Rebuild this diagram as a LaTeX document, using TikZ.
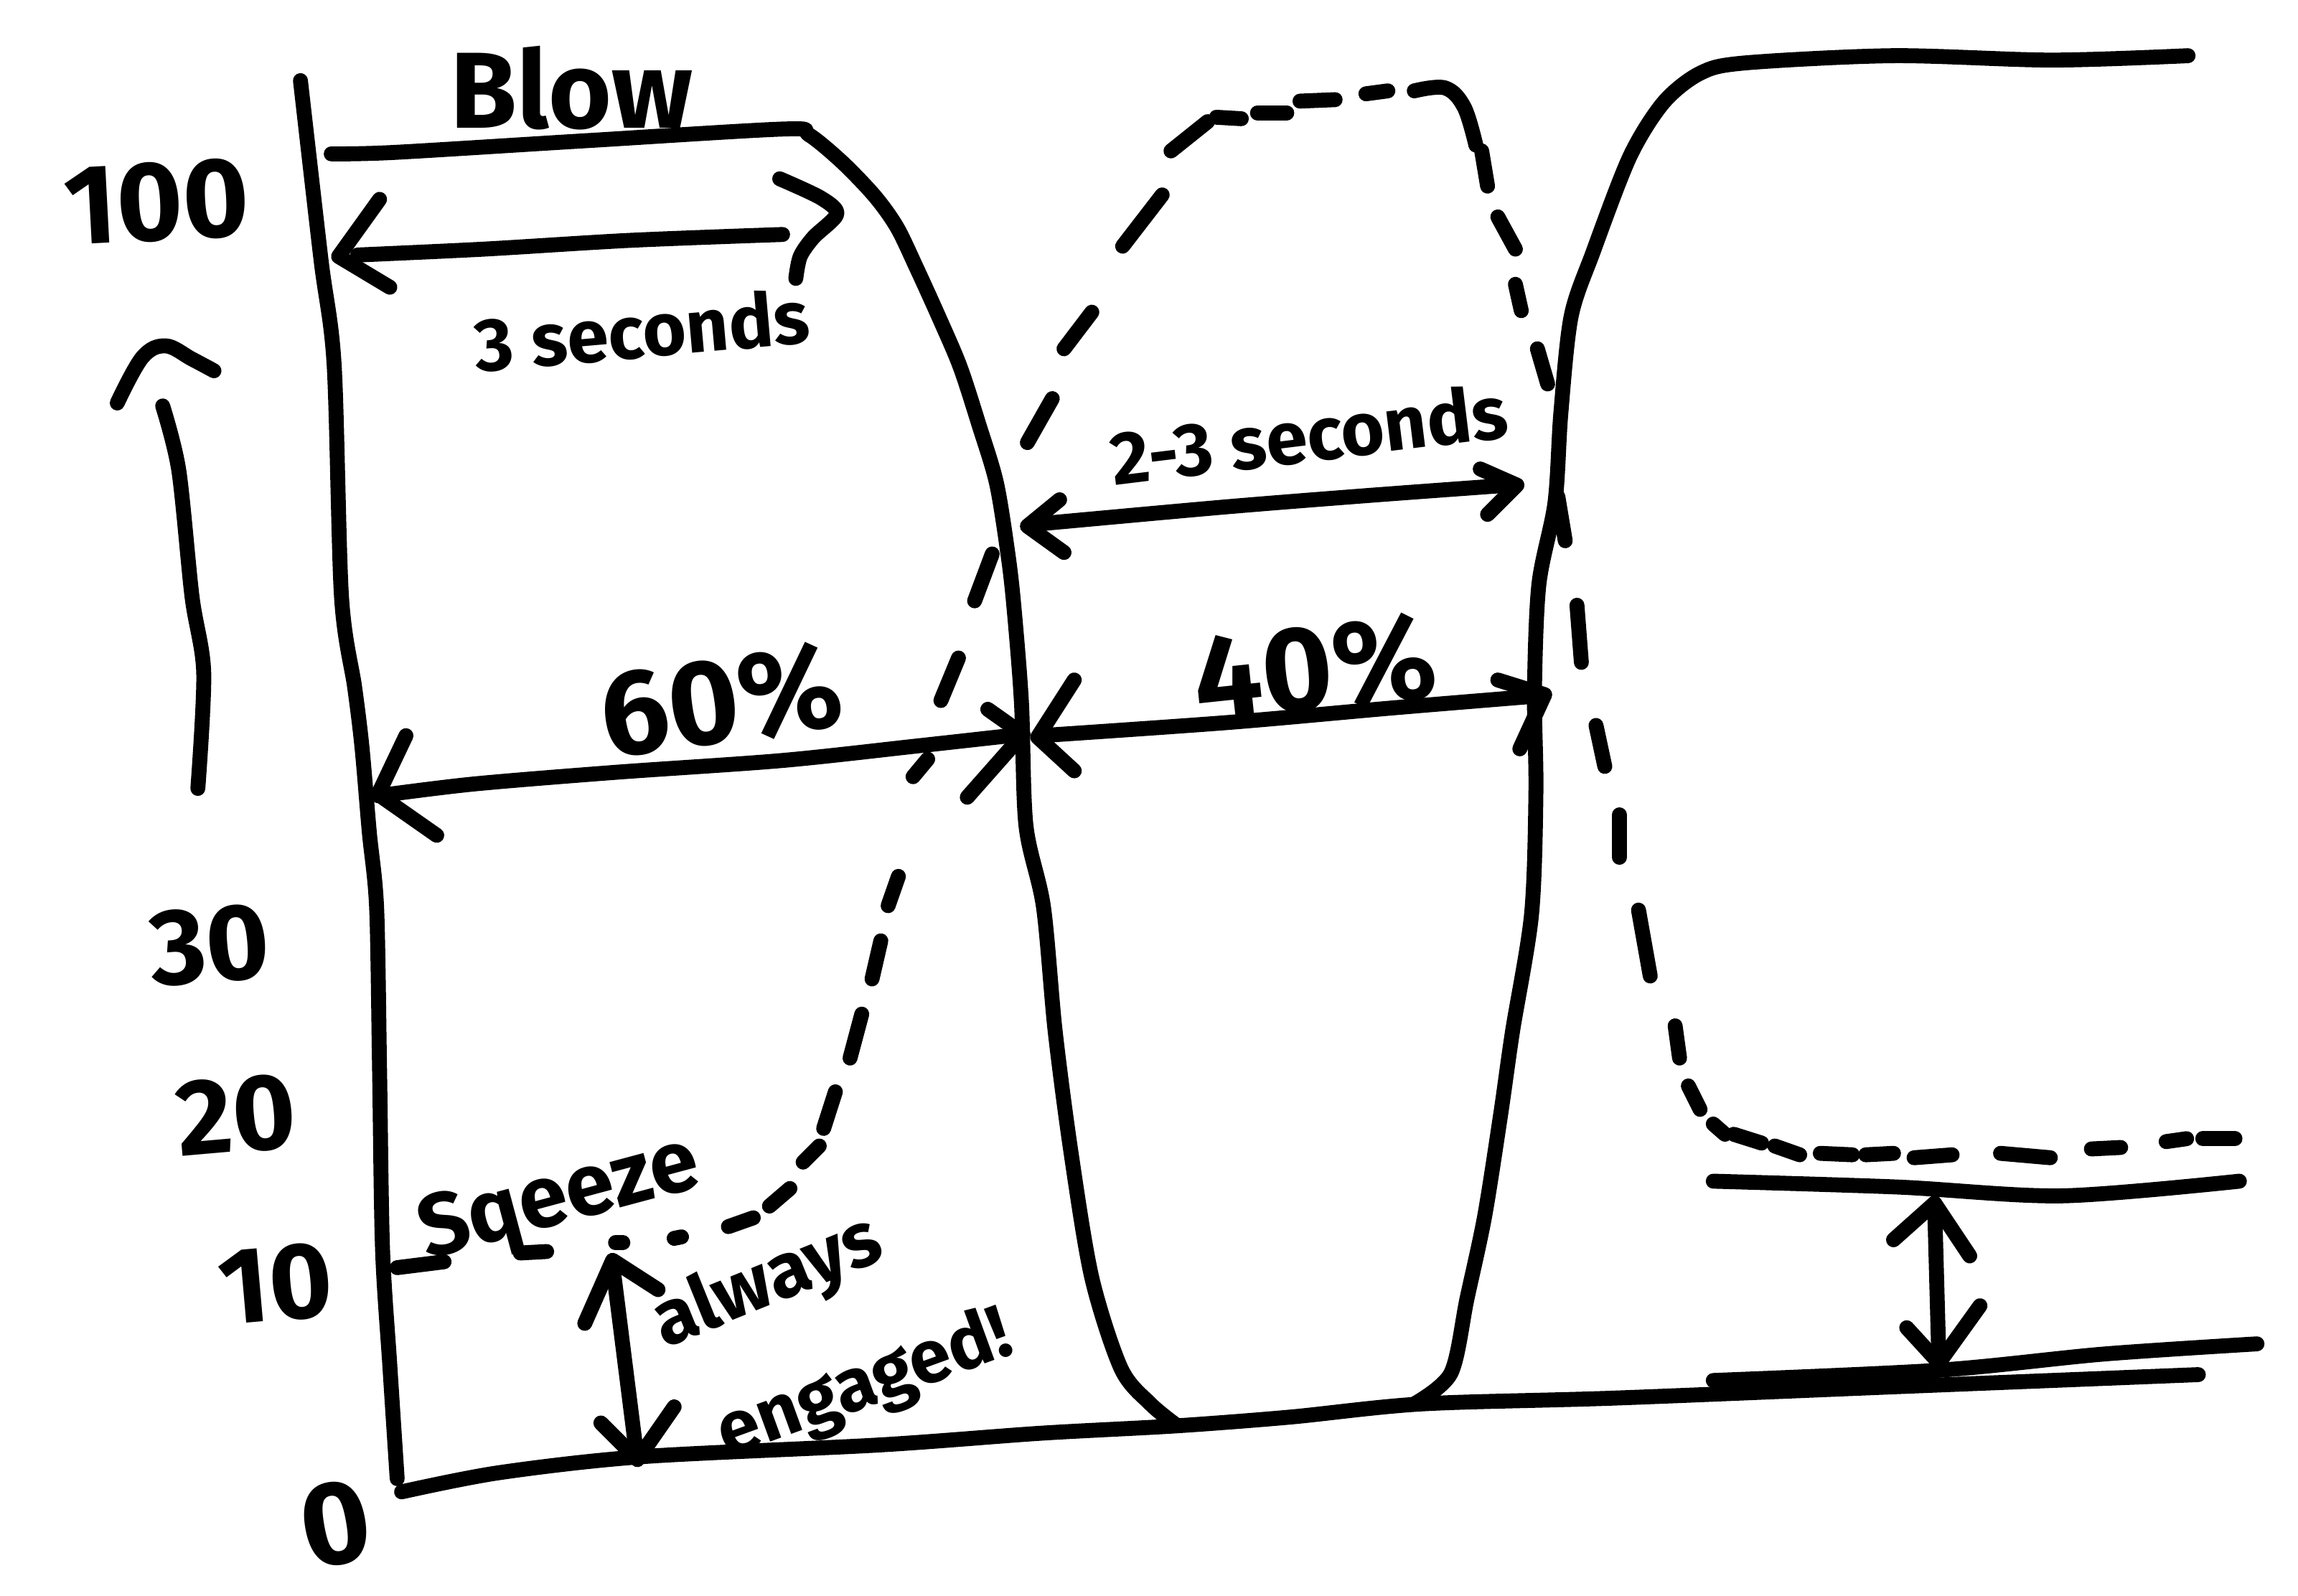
\documentclass[tikz,border=0pt]{standalone}
\usepackage{fontspec}
\setmainfont{Fira Sans}
\begin{document}
\begin{tikzpicture}[x=0.02cm,y=-0.02cm,
  pen/.style={line width=5.8pt,line cap=round,line join=round},
  txt/.style={inner sep=0pt,outer sep=0pt}]
\useasboundingbox[fill=white] (0,0) rectangle (1568,1089);

% vertical axis
\draw[pen] plot[smooth,tension=0.5] coordinates {(205,55) (219,177) (228,249) (233,407) (242,469) (247,510) (252,568) (257,620) (259,731) (261,852) (266,932) (271,1009)};
% tick at 10
\draw[pen] (271,865) -- (303,861);

% blow plateau and first drop
\draw[pen] plot[smooth,tension=0.5] coordinates {(226,105) (269,104) (400,96) (536,88) (552,92) (575,111) (597,134) (612,155) (625,182) (640,215) (655,250) (668,290) (680,330) (688,380) (692,416) (697,480) (700,563) (712,619) (720,704) (731,788) (745,872) (765,934) (785,958) (802,972)};

% bottom line
\draw[pen] plot[smooth,tension=0.5] coordinates {(274,1018) (340,1005) (438,994) (600,986) (710,978) (802,973) (880,967) (970,958) (1102,954) (1300,946) (1500,938)};

% rise and top right plateau
\draw[pen] plot[smooth,tension=0.5] coordinates {(965,958) (990,937) (1001,886) (1013,830) (1024,760) (1032,704) (1045,624) (1048,540) (1047,472) (1050,399) (1061,343) (1065,282) (1072,216) (1087,172) (1112,107) (1135,70) (1160,50) (1190,43) (1292,38) (1400,41) (1493,38)};

% right-hand level lines
\draw[pen] plot[smooth,tension=0.5] coordinates {(1169,806) (1295,810) (1407,816) (1528,806)};
\draw[pen] plot[smooth,tension=0.5] coordinates {(1169,942) (1323,935) (1435,924) (1540,917)};
% right double arrow
\draw[pen] (1320,821) -- (1323,930);
\draw[pen] (1292,846) -- (1320,821) -- (1344,857);
\draw[pen] (1301,906) -- (1323,930) -- (1351,891);

% left up arrow
\draw[pen] plot[smooth,tension=0.6] coordinates {(80,275) (97,244) (113,236) (131,245) (146,253)};
\draw[pen] plot[smooth,tension=0.5] coordinates {(111,277) (122,321) (131,407) (139,459) (135,538)};

% 3 seconds arrow
\draw[pen] plot[smooth,tension=0.5] coordinates {(244,174) (330,170) (430,164) (534,160)};
\draw[pen] (259,136) -- (231,175) -- (266,196);
\draw[pen] plot[smooth,tension=0.5] coordinates {(532,122) (560,135) (571,146) (555,162) (546,175) (543,190)};

% 60% arrow
\draw[pen] plot[smooth,tension=0.5] coordinates {(258,543) (323,535) (420,527) (533,519) (626,509) (698,501)};
\draw[pen] (277,502) -- (258,542) -- (298,570);
\draw[pen] (674,484) -- (698,501) -- (660,544);

% 40% arrow
\draw[pen] plot[smooth,tension=0.5] coordinates {(710,502) (838,493) (951,483) (1048,475)};
\draw[pen] (733,464) -- (708,503) -- (733,526);
\draw[pen] (1022,464) -- (1054,474) -- (1037,511);

% 2-3 seconds arrow
\draw[pen] plot[smooth,tension=0.5] coordinates {(703,358) (835,346) (935,338) (1030,331)};
\draw[pen] (723,341) -- (701,359) -- (726,377);
\draw[pen] (1010,320) -- (1035,331) -- (1015,351);

% always engaged arrow
\draw[pen] (418,863) -- (434,990);
\draw[pen] (399,903) -- (418,860) -- (449,880);
\draw[pen] (410,971) -- (435,996) -- (460,960);

% dashed squeeze / blow curve
\foreach \a/\b in {
  {(355,855)}/{(373,854)}, {(420,848)}/{(425,848)}, {(460,845)}/{(465,844)},
  {(497,837)}/{(514,831)}, {(525,823)}/{(539,811)}, {(548,793)}/{(559,782)},
  {(562,770)}/{(570,745)}, {(580,722)}/{(588,692)}, {(595,668)}/{(601,642)},
  {(606,618)}/{(613,598)}, {(623,530)}/{(633,518)}, {(642,478)}/{(654,449)},
  {(665,410)}/{(677,378)}, {(701,302)}/{(718,272)}, {(726,238)}/{(745,213)},
  {(766,168)}/{(793,133)}, {(799,103)}/{(824,83)}, {(830,80)}/{(847,81)},
  {(858,77)}/{(878,77)}, {(887,69)}/{(911,68)}, {(932,64)}/{(947,62)},
  {(1011,103)}/{(1015,127)}, {(1022,148)}/{(1034,170)}, {(1034,194)}/{(1038,212)},
  {(1049,238)}/{(1056,262)}, {(1063,339)}/{(1068,369)}, {(1076,413)}/{(1079,452)},
  {(1089,495)}/{(1095,523)}, {(1105,556)}/{(1105,585)}, {(1118,621)}/{(1126,666)},
  {(1143,700)}/{(1146,722)}, {(1152,741)}/{(1160,757)}, {(1169,767)}/{(1177,774)},
  {(1183,774)}/{(1202,780)}, {(1211,782)}/{(1228,788)}, {(1242,787)}/{(1264,788)},
  {(1273,788)}/{(1292,787)}, {(1306,790)}/{(1332,788)}, {(1365,787)}/{(1399,790)},
  {(1427,784)}/{(1447,783)}, {(1478,779)}/{(1492,777)}, {(1503,777)}/{(1525,777)}}
  {\draw[pen] \a -- \b;}
\draw[pen] plot[smooth,tension=0.6] coordinates {(965,62) (986,60) (999,73) (1007,99)};

% texts
\node[txt,font=\bfseries\fontsize{42}{46}\selectfont] (blow) at (390,60) {Blow};
\node[txt,font=\bfseries\fontsize{44}{48}\selectfont,rotate=3] (l100) at (107,138) {100};
\node[txt,font=\bfseries\fontsize{29}{33}\selectfont,rotate=5] (s3) at (438,225) {3 seconds};
\node[txt,font=\bfseries\fontsize{29}{33}\selectfont,rotate=7] (s23) at (893,296) {2-3 seconds};
\node[txt,font=\bfseries\fontsize{47}{51}\selectfont,rotate=8] (p60) at (492,478) {60\%};
\node[txt,font=\bfseries\fontsize{47}{51}\selectfont,rotate=6] (p40) at (897,456) {40\%};
\node[txt,font=\bfseries\fontsize{42}{46}\selectfont,rotate=5] (l30) at (143,645) {30};
\node[txt,font=\bfseries\fontsize{42}{46}\selectfont,rotate=5] (l20) at (161,761) {20};
\node[txt,font=\bfseries\fontsize{42}{46}\selectfont,rotate=5] (l10) at (188,876) {10};
\node[txt,font=\bfseries\fontsize{46}{50}\selectfont,rotate=10] (l0) at (229,1040) {0};
\node[txt,font=\bfseries\fontsize{34}{38}\selectfont,rotate=15] (sq) at (382,820) {Sqeeze};
\node[txt,font=\bfseries\fontsize{30}{34}\selectfont,rotate=22] (alw) at (524,876) {always};
\node[txt,font=\bfseries\fontsize{29}{33}\selectfont,rotate=20] (eng) at (590,946) {engaged!};
\end{tikzpicture}
\end{document}
